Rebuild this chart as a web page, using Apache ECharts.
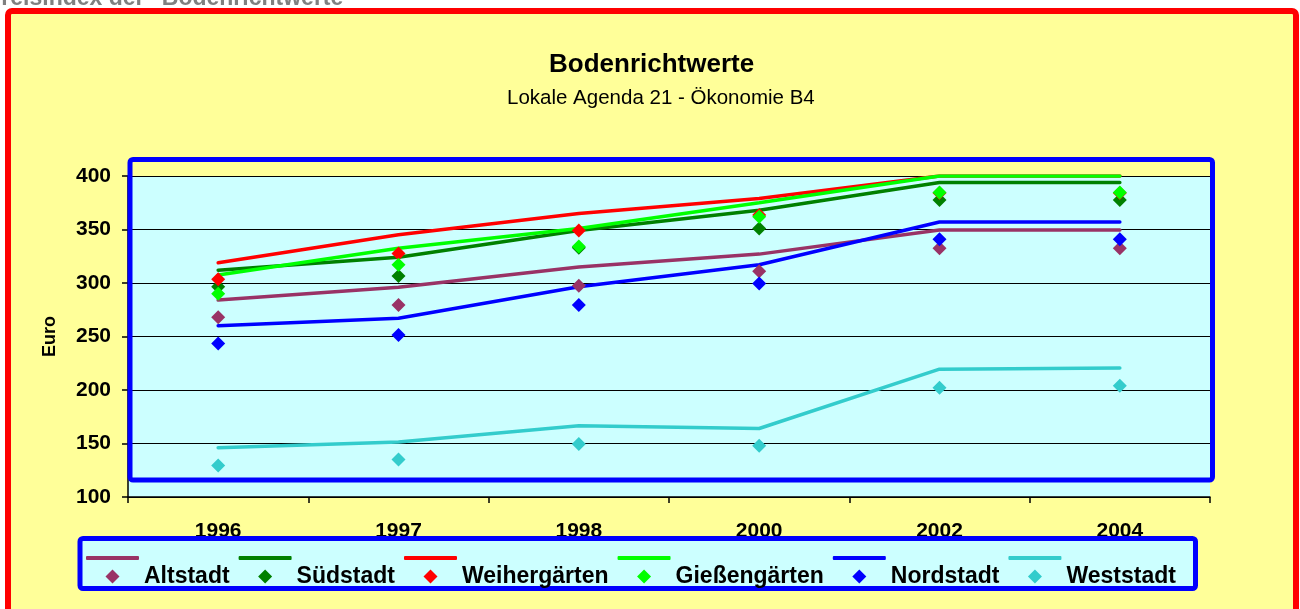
<!DOCTYPE html>
<html>
<head>
<meta charset="utf-8">
<script src="https://cdn.jsdelivr.net/npm/echarts@6.0.0/dist/echarts.min.js"></script>
<style>
  html, body { margin: 0; padding: 0; background: #fff; }
  #bodenrichtwerte { width: 1300px; height: 609px; }
</style>
</head>
<body>
<div id="bodenrichtwerte"></div>
<script>
// Jahre (Kategorien)
const years = ['1996', '1997', '1998', '2000', '2002', '2004']
const districts = ['Altstadt', 'Südstadt', 'Weihergärten', 'Gießengärten', 'Nordstadt', 'Weststadt']
const yTicks = [100, 150, 200, 250, 300, 350, 400]

// Linien
const lineAltstadt = [284, 296, 315, 327, 349.5, 349.5]
const lineSuedstadt = [312, 324, 349, 368, 394, 394]
const lineWeihergaerten = [319, 345, 365, 379, 400, 400]
const lineGiessengaerten = [307.5, 332.5, 351, 375, 400, 400]
const lineNordstadt = [260, 267, 296.5, 317, 357, 357]
const lineWeststadt = [146, 151.5, 166.5, 164, 219.5, 220.5]

// Punkte (Rauten)
const pointAltstadt = [268, 279.5, 297.5, 311, 332.5, 332.5]
const pointSuedstadt = [296.5, 306.5, 333, 351, 377.5, 377.5]
const pointWeihergaerten = [303.5, 327.5, 349, 363.5, 384, 384]
const pointGiessengaerten = [290, 317, 334, 362, 384.5, 384.5]
const pointNordstadt = [243.5, 251.5, 279.5, 299.5, 341, 341]
const pointWeststadt = [129.5, 135, 149.5, 148, 202, 204]

const lineData = [lineAltstadt, lineSuedstadt, lineWeihergaerten, lineGiessengaerten, lineNordstadt, lineWeststadt]
const pointData = [pointAltstadt, pointSuedstadt, pointWeihergaerten, pointGiessengaerten, pointNordstadt, pointWeststadt]

const colors = ['#993366', '#008000', '#ff0000', '#00ff00', '#0000ff', '#33cccc']
const fontFamily = 'Liberation Sans, Arial, Helvetica, sans-serif'
const lineSuffix = ' (Linie)'
// Raute mittig in einem 53x14 Feld (die Move-Punkte spannen die Breite auf)
const legendDiamond = 'path://M0,7M53,7M26.5,0L33.5,7L26.5,14L19.5,7Z'

let dom = document.getElementById('bodenrichtwerte')
let myChart = echarts.init(dom, null, { renderer: 'canvas' })

let legendBase = {
  orient: 'horizontal',
  left: 86,
  padding: 0,
  itemWidth: 53,
  itemGap: 9,
  selectedMode: false,
  textStyle: {
    fontFamily: fontFamily,
    fontSize: 23,
    fontWeight: 'bold',
    color: '#000'
  }
}

let option = {
  backgroundColor: '#ffffff',
  animation: false,
  title: [{
    text: 'Bodenrichtwerte',
    left: 549,
    top: 52,
    padding: 0,
    textStyle: {
      fontFamily: fontFamily,
      fontSize: 26,
      fontWeight: 'bold',
      color: '#000'
    }
  }, {
    text: 'Lokale Agenda 21 - Ökonomie B4',
    left: 507,
    top: 88,
    padding: 0,
    textStyle: {
      fontFamily: fontFamily,
      fontSize: 20.5,
      fontWeight: 'normal',
      color: '#000'
    }
  }],
  graphic: [{
    // aeusserer Rahmen
    type: 'rect',
    z: -1,
    shape: { x: 8, y: 11, width: 1288, height: 620, r: 4 },
    style: { fill: '#ffff99', stroke: '#ff0000', lineWidth: 6 }
  }, {
    type: 'text',
    z: -1,
    x: -14,
    y: 10,
    style: {
      text: 'Preisindex der "Bodenrichtwerte"',
      font: 'bold 23px ' + fontFamily,
      fill: '#808080',
      verticalAlign: 'bottom'
    }
  }, {
    // blauer Rahmen um die Zeichenflaeche
    type: 'rect',
    z: 1,
    shape: { x: 130, y: 159.5, width: 1082.5, height: 320.5, r: 3 },
    style: { fill: 'none', stroke: '#0000ff', lineWidth: 5 }
  }, {
    // Legendenkasten
    type: 'rect',
    z: 3,
    shape: { x: 80, y: 538.5, width: 1115.5, height: 50, r: 3 },
    style: { fill: '#ccffff', stroke: '#0000ff', lineWidth: 5 }
  }],
  legend: [Object.assign({}, legendBase, {
    top: 546.5,
    itemHeight: 4,
    data: districts.map(name => {
      return { name: name + lineSuffix, icon: 'roundRect' }
    }),
    formatter: name => name.replace(lineSuffix, ''),
    textStyle: Object.assign({}, legendBase.textStyle, { color: 'rgba(0,0,0,0)' })
  }), Object.assign({}, legendBase, {
    top: 565,
    itemHeight: 14,
    data: districts.map(name => {
      return { name: name, icon: legendDiamond }
    })
  })],
  grid: {
    left: 128,
    right: 90,
    top: 176,
    bottom: 112,
    show: true,
    backgroundColor: '#ccffff',
    borderWidth: 0,
    containLabel: false,
    outerBoundsMode: 'none'
  },
  xAxis: {
    type: 'category',
    data: years,
    boundaryGap: true,
    axisLine: {
      lineStyle: { color: '#000', width: 1.5 }
    },
    axisTick: {
      show: true,
      length: 6,
      lineStyle: { color: '#000', width: 1.5 }
    },
    axisLabel: {
      margin: 24,
      fontFamily: fontFamily,
      fontSize: 21,
      fontWeight: 'bold',
      color: '#000'
    },
    splitLine: { show: false }
  },
  yAxis: {
    type: 'value',
    min: yTicks[0],
    max: yTicks[yTicks.length - 1],
    interval: 50,
    name: 'Euro',
    nameLocation: 'middle',
    nameRotate: 90,
    nameGap: 69,
    nameTextStyle: {
      fontFamily: fontFamily,
      fontSize: 18,
      fontWeight: 'bold',
      color: '#000'
    },
    axisLine: {
      show: true,
      lineStyle: { color: '#000', width: 1.5 }
    },
    axisTick: {
      show: true,
      length: 6,
      lineStyle: { color: '#000', width: 1.5 }
    },
    axisLabel: {
      margin: 17,
      fontFamily: fontFamily,
      fontSize: 21,
      fontWeight: 'bold',
      color: '#000'
    },
    splitLine: {
      show: true,
      lineStyle: { color: '#000', width: 1.2 }
    }
  },
  series: []
}

// erst alle Linien, dann die Rauten darueber
option.series = districts.map((name, i) => {
  return {
    name: name + lineSuffix,
    type: 'line',
    data: lineData[i],
    symbol: 'none',
    z: 2,
    itemStyle: { color: colors[i] },
    lineStyle: { color: colors[i], width: 3.5, cap: 'round' }
  }
}).concat(districts.map((name, i) => {
  return {
    name: name,
    type: 'scatter',
    data: pointData[i],
    symbol: 'diamond',
    symbolSize: 14,
    z: 3,
    itemStyle: { color: colors[i], opacity: 1 }
  }
}))

if (option && typeof option === 'object') {
  myChart.setOption(option, true)
}
</script>
</body>
</html>
